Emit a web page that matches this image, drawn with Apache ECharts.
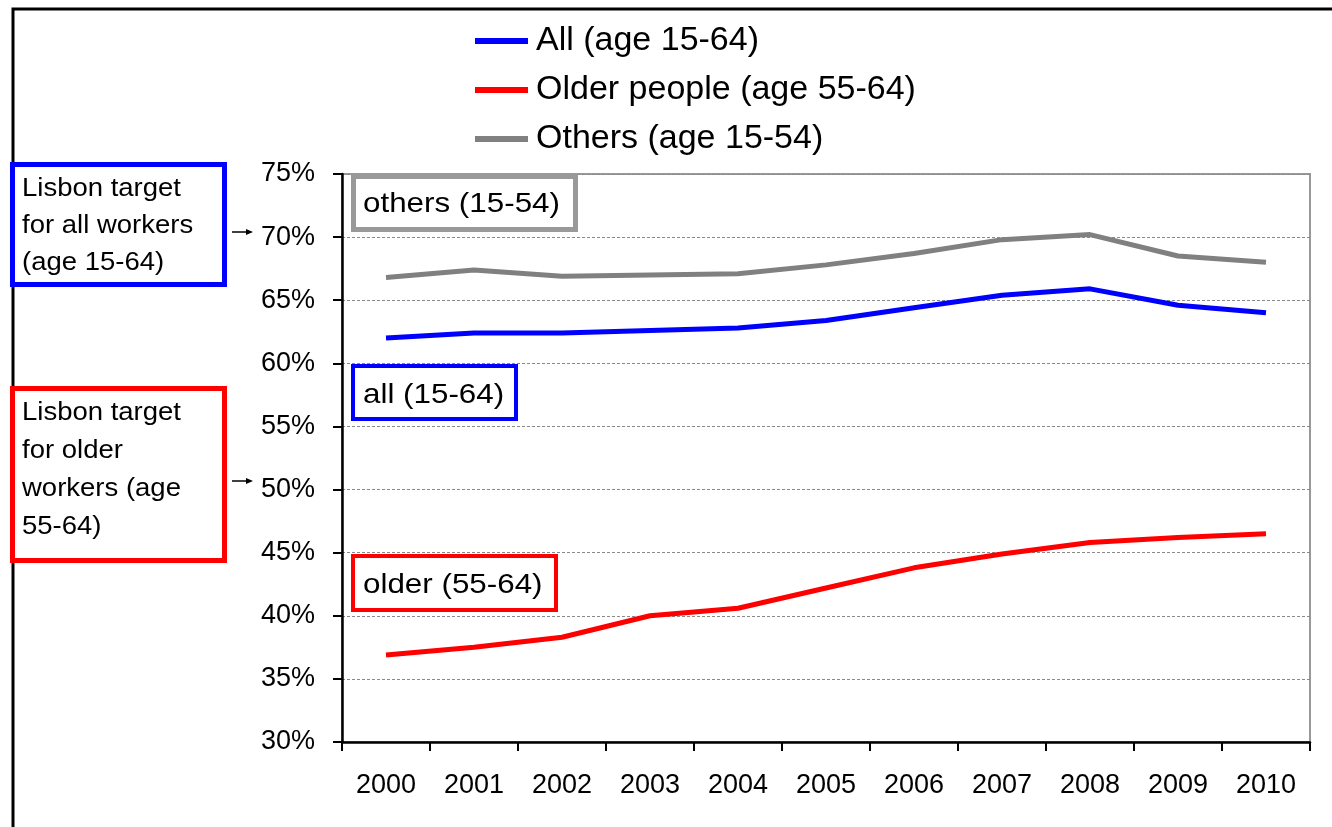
<!DOCTYPE html>
<html>
<head>
<meta charset="utf-8">
<script src="https://cdn.jsdelivr.net/npm/echarts@6/dist/echarts.min.js"></script>
<style>
  html, body { margin: 0; padding: 0; background: #fff; }
  #chart { width: 1332px; height: 827px; }
</style>
</head>
<body>
<div id="chart"></div>
<script>
// Employment rates by age group, 2000-2010 (%)
const years = ['2000', '2001', '2002', '2003', '2004', '2005', '2006', '2007', '2008', '2009', '2010'];
const allAges = [62.0, 62.4, 62.4, 62.6, 62.8, 63.4, 64.4, 65.4, 65.9, 64.6, 64.0];
const olderPeople = [36.9, 37.5, 38.3, 40.0, 40.6, 42.2, 43.8, 44.9, 45.8, 46.2, 46.5];
const others = [66.8, 67.4, 66.9, 67.0, 67.1, 67.8, 68.7, 69.8, 70.2, 68.5, 68.0];
const seriesNames = ['All (age 15-64)', 'Older people (age 55-64)', 'Others (age 15-54)'];
const yTicks = { min: 30, max: 75, step: 5 };

const FONT = "'Liberation Sans', Arial, sans-serif";

function box(x, y, w, h, color, lw) {
  return {
    type: 'rect',
    shape: { x: x, y: y, width: w, height: h },
    style: { fill: '#fff', stroke: color, lineWidth: lw },
    z: 100
  };
}
function label(x, y, text, size, lh, sx) {
  return {
    type: 'text',
    x: x, y: y,
    scaleX: sx || 1,
    style: { text: text, font: size + 'px ' + FONT, fill: '#000', lineHeight: lh || size, verticalAlign: 'middle', textAlign: 'left' },
    z: 101
  };
}
function arrow(x1, x2, y) {
  return [
    { type: 'line', shape: { x1: x1, y1: y, x2: x2 - 5, y2: y }, style: { stroke: '#000', lineWidth: 1.5 }, z: 101 },
    { type: 'polygon', shape: { points: [[x2, y], [x2 - 7, y - 3], [x2 - 7, y + 3]] }, style: { fill: '#000' }, z: 101 }
  ];
}

const chart = echarts.init(document.getElementById('chart'), null, { renderer: 'canvas' });

chart.setOption({
  animation: false,
  backgroundColor: '#fff',
  textStyle: { fontFamily: FONT },
  color: ['#0000FF', '#FF0000', '#808080'],
  legend: {
    orient: 'vertical',
    left: 470,
    top: 19,
    icon: 'rect',
    itemWidth: 53,
    itemHeight: 6,
    itemGap: 15,
    data: seriesNames,
    textStyle: { fontSize: 34, color: '#000', fontFamily: FONT, padding: [0, 0, 0, 3] }
  },
  grid: {
    left: 342, top: 174, right: 22, bottom: 85,
    show: true, borderColor: '#999', borderWidth: 2, backgroundColor: 'transparent',
    containLabel: false
  },
  xAxis: {
    type: 'category',
    data: years,
    boundaryGap: true,
    axisLine: { lineStyle: { color: '#000', width: 2.5 } },
    axisTick: { show: true, length: 9, lineStyle: { color: '#000', width: 2 } },
    axisLabel: { fontSize: 27, color: '#000', margin: 30, fontFamily: FONT },
    splitLine: { show: false }
  },
  yAxis: {
    type: 'value',
    min: yTicks.min, max: yTicks.max, interval: yTicks.step,
    axisLine: { show: true, lineStyle: { color: '#000', width: 2.5 } },
    axisTick: { show: true, length: 9, lineStyle: { color: '#000', width: 2 } },
    axisLabel: { fontSize: 27, color: '#000', margin: 27, formatter: '{value}%', fontFamily: FONT },
    splitLine: { show: true, lineStyle: { color: '#8a8a8a', width: 1, type: [3, 2] } }
  },
  series: [
    { name: seriesNames[0], type: 'line', data: allAges, showSymbol: false, symbol: 'none', lineStyle: { width: 5, color: '#0000FF', cap: 'butt' }, z: 3 },
    { name: seriesNames[1], type: 'line', data: olderPeople, showSymbol: false, symbol: 'none', lineStyle: { width: 5, color: '#FF0000', cap: 'butt' }, z: 3 },
    { name: seriesNames[2], type: 'line', data: others, showSymbol: false, symbol: 'none', lineStyle: { width: 5, color: '#808080', cap: 'butt' }, z: 3 }
  ],
  graphic: [
    // outer frame
    { type: 'rect', shape: { x: 13, y: 9, width: 1400, height: 900 }, style: { fill: 'none', stroke: '#000', lineWidth: 3 }, z: 90 },

    // Lisbon target notes on the left
    box(12.5, 164.5, 212, 120, '#0000FF', 5),
    label(22, 226, 'Lisbon target\nfor all workers\n(age 15-64)', 25, 37, 1.1),
    box(12.5, 388.5, 212, 172, '#FF0000', 5),
    label(22, 470, 'Lisbon target\nfor older\nworkers (age\n55-64)', 25, 38, 1.1),
    ...arrow(232, 253, 232),
    ...arrow(232, 253, 481),

    // series tags inside the plot
    box(353.5, 176.5, 222, 53, '#999999', 5),
    label(363, 204, 'others (15-54)', 28, 28, 1.12),
    box(353, 366, 163, 53, '#0000FF', 4),
    label(363, 395, 'all (15-64)', 28, 28, 1.12),
    box(353, 556, 203, 54, '#FF0000', 4),
    label(363, 585, 'older (55-64)', 28, 28, 1.12)
  ]
});
</script>
</body>
</html>
